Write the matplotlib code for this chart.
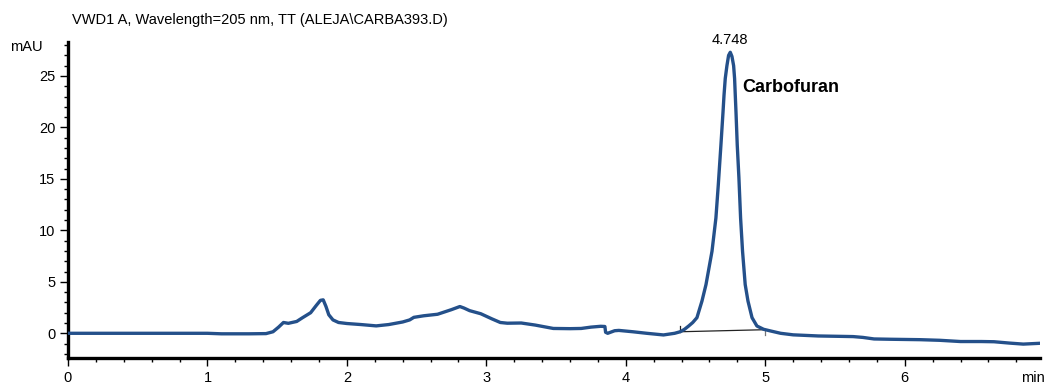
import matplotlib
matplotlib.use("Agg")
import matplotlib.pyplot as plt
from matplotlib.ticker import MultipleLocator

plt.rcParams['font.family'] = ['Liberation Sans', 'DejaVu Sans']

time_min = [0.00, 0.50, 1.00, 1.10, 1.30, 1.42, 1.47, 1.51, 1.545, 1.58, 1.64, 1.68, 1.74, 1.78,
            1.81, 1.83, 1.85, 1.87, 1.90, 1.94, 2.00, 2.10, 2.21, 2.30, 2.40, 2.45, 2.48, 2.55,
            2.65, 2.75, 2.81, 2.84, 2.88, 2.96, 3.04, 3.10, 3.15, 3.25, 3.35, 3.48, 3.60, 3.68,
            3.75, 3.82, 3.85, 3.855, 3.87, 3.92, 3.95, 4.05, 4.15, 4.27, 4.35, 4.39, 4.42, 4.45,
            4.48, 4.51, 4.546, 4.575, 4.618, 4.646, 4.663, 4.682, 4.697, 4.704, 4.713, 4.725,
            4.737, 4.749, 4.761, 4.773, 4.780, 4.785, 4.790, 4.799, 4.811, 4.823, 4.837, 4.856,
            4.876, 4.905, 4.940, 4.988, 5.04, 5.11, 5.20, 5.38, 5.55, 5.63, 5.70, 5.78, 5.90,
            6.11, 6.25, 6.40, 6.55, 6.64, 6.75, 6.85, 6.97]
signal_mau = [0.0, 0.0, 0.0, -0.05, -0.05, -0.03, 0.15, 0.6, 1.05, 0.97, 1.15, 1.5, 2.0, 2.7,
              3.2, 3.25, 2.6, 1.8, 1.3, 1.05, 0.95, 0.85, 0.72, 0.85, 1.1, 1.3, 1.55, 1.7,
              1.85, 2.3, 2.6, 2.45, 2.2, 1.9, 1.4, 1.05, 0.98, 1.0, 0.8, 0.47, 0.45, 0.47,
              0.6, 0.68, 0.66, 0.1, 0.0, 0.25, 0.28, 0.15, 0.0, -0.16, 0.0, 0.15, 0.38, 0.7,
              1.05, 1.52, 3.13, 4.74, 7.97, 11.2, 14.4, 18.3, 21.5, 23.1, 24.75, 26.0,
              27.0, 27.3, 26.9, 26.0, 24.75, 23.1, 21.5, 18.3, 15.1, 11.2, 7.97, 4.74,
              3.13, 1.52, 0.71, 0.39, 0.22, 0.0, -0.15, -0.26, -0.3, -0.32, -0.4, -0.55, -0.58,
              -0.62, -0.68, -0.8, -0.8, -0.82, -0.95, -1.05, -0.97]

peak_rt = 4.748
peak_height = 27.3
peak_name = "Carbofuran"
baseline_t = [4.39, 5.00]
baseline_v = [0.15, 0.35]
x_ticks = [0, 1, 2, 3, 4, 5, 6]
y_ticks = [0, 5, 10, 15, 20, 25]

W, H = 1046, 383
fig = plt.figure(figsize=(W / 100, H / 100), dpi=100)
ax = fig.add_axes([68 / W, 1 - 358 / H, (1040 - 68) / W, (358 - 42) / H])

ax.plot(time_min, signal_mau, color='#24508a', lw=2.4, solid_joinstyle='round',
        solid_capstyle='round', zorder=3)
ax.plot(baseline_t, baseline_v, color='#222222', lw=0.9, zorder=2)
ax.plot([baseline_t[0], baseline_t[0]], [baseline_v[0], baseline_v[0] + 0.55], color='#222222', lw=0.9)
ax.plot([baseline_t[1], baseline_t[1]], [baseline_v[1], baseline_v[1] - 0.55], color='#777777', lw=0.9)

ax.set_xlim(0, 6.97)
ax.set_ylim(-2.4, 28.3)
ax.set_xticks(x_ticks)
ax.set_yticks(y_ticks)
ax.xaxis.set_minor_locator(MultipleLocator(0.2))
ax.yaxis.set_minor_locator(MultipleLocator(1))
ax.tick_params(which='major', length=6, width=1, labelsize=10.5, direction='out', pad=3)
ax.tick_params(which='minor', length=3, width=1, direction='out')
for s in ['top', 'right']:
    ax.spines[s].set_visible(False)
for s in ['left', 'bottom']:
    ax.spines[s].set_linewidth(2.4)

ax.text(peak_rt, peak_height + 0.5, f"{peak_rt:.3f}", ha='center', va='bottom', fontsize=10.5)
ax.text(peak_rt + 0.087, 23.9, peak_name, ha='left', va='center', fontsize=13, fontweight='bold')

fig.text(72 / W, 1 - 20 / H, "VWD1 A, Wavelength=205 nm, TT (ALEJA\\CARBA393.D)", ha='left', va='center', fontsize=10.5)
fig.text(10 / W, 1 - 47 / H, "mAU", ha='left', va='center', fontsize=10.5)
fig.text(1045 / W, 1 - 378 / H, "min", ha='right', va='center', fontsize=10.5)

fig.savefig("out.png", dpi=100)
